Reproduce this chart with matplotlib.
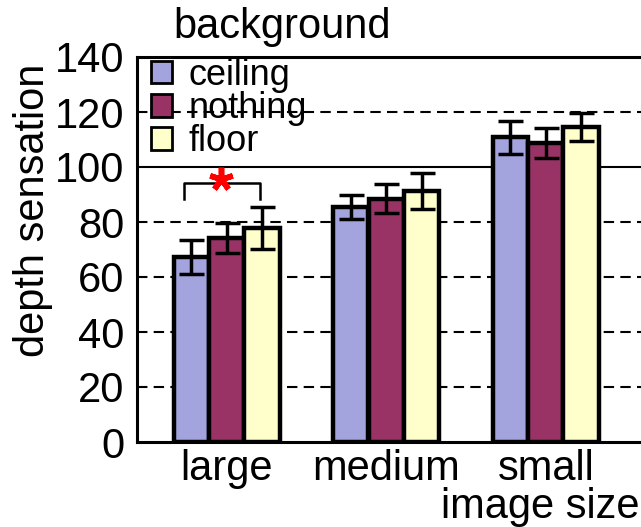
import numpy as np
import matplotlib.pyplot as plt

plt.rcParams['font.family'] = ['Liberation Sans', 'DejaVu Sans']

# data
sizes = ["large", "medium", "small"]
backgrounds = ["ceiling", "nothing", "floor"]
colors = ["#a3a3de", "#993366", "#ffffcc"]
ceiling = [67.3, 85.5, 110.9]
nothing = [74.2, 88.4, 108.7]
floor = [77.8, 91.3, 114.5]
ceiling_err = [6.2, 4.4, 6.0]
nothing_err = [5.5, 5.3, 5.4]
floor_err = [7.6, 6.4, 5.0]
yticks = [0, 20, 40, 60, 80, 100, 120, 140]

fig = plt.figure(figsize=(6.41, 5.27), dpi=100)
ax = fig.add_axes([137 / 641, 1 - 442 / 527, 504 / 641, 385 / 527])

x = np.arange(len(sizes))
w = 0.22
offsets = [-0.225, 0.0, 0.22]
values = [ceiling, nothing, floor]
errs = [ceiling_err, nothing_err, floor_err]

# grid lines
for t in yticks[1:-1]:
    if t == 100:
        ax.axhline(t, color="black", lw=1.5, zorder=0)
    else:
        ax.axhline(t, color="black", lw=1.5, ls=(0, (5, 3)), zorder=0)

handles = []
for vals, err, off, c, name in zip(values, errs, offsets, colors, backgrounds):
    b = ax.bar(x + off, vals, width=w, color=c, edgecolor="black", linewidth=3.2,
               zorder=2, label=name)
    ax.errorbar(x + off, vals, yerr=err, fmt="none", ecolor="black",
                elinewidth=2.5, capsize=9, capthick=2.5, zorder=3)
    handles.append(b)

# significance bracket
bx0, bx1 = -0.27, 0.21
ax.plot([bx0, bx0, bx1, bx1], [88.4, 94.2, 94.2, 88.4], color="black",
        lw=1.8, zorder=4)
ax.plot([-0.04], [95.5], marker=(5, 2, 0), color="red", markersize=17,
        markeredgewidth=4, zorder=5)

ax.set_xlim(-0.564, 2.596)
ax.set_ylim(0, 140)
ax.set_yticks(yticks)
ax.set_xticks(x)
ax.set_xticklabels(sizes)
ax.tick_params(axis="both", length=0, labelsize=30)
ax.tick_params(axis="y", pad=9)
ax.tick_params(axis="x", pad=5)
for s in ["left", "top", "bottom"]:
    ax.spines[s].set_linewidth(2.2)
ax.spines["right"].set_visible(False)

leg = ax.legend(handles=handles, loc="upper left", frameon=False,
                fontsize=26, handlelength=0.57, handleheight=0.57,
                handletextpad=0.45, labelspacing=-0.05, borderaxespad=0,
                bbox_to_anchor=(0.0, 1.035))
for p in leg.get_patches():
    p.set_linewidth(2)

fig.text(282 / 641, 1 - 27 / 527, "background", fontsize=30,
         ha="center", va="center")
fig.text(540 / 641, 1 - 507 / 527, "image size", fontsize=30,
         ha="center", va="center")
fig.text(33 / 641, 1 - 210 / 527, "depth sensation", fontsize=30,
         ha="center", va="center", rotation=90)

fig.savefig("out.png", dpi=100)
